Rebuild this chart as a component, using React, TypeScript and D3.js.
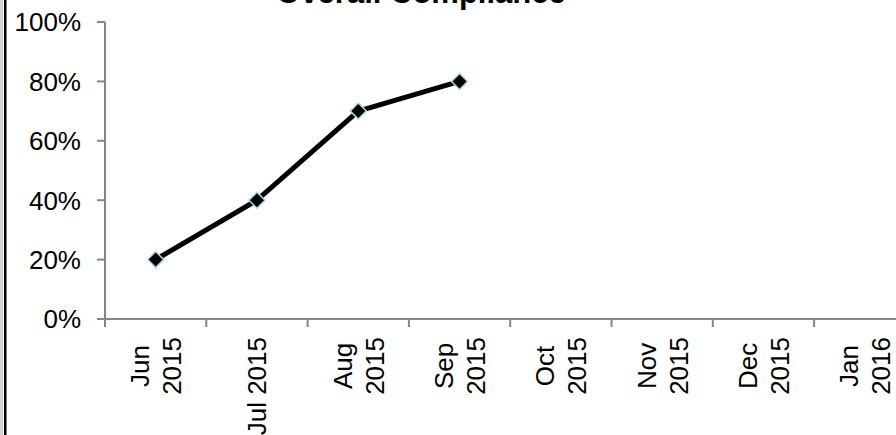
import React, { useEffect, useRef } from "react";
import * as d3 from "d3";

// Month categories, one per band on the x axis
const categories = [
  "Jun 2015",
  "Jul 2015",
  "Aug 2015",
  "Sep 2015",
  "Oct 2015",
  "Nov 2015",
  "Dec 2015",
  "Jan 2016",
];

// How each category label wraps onto lines
const tickLabelLines: string[][] = [
  ["Jun", "2015"],
  ["Jul 2015"],
  ["Aug", "2015"],
  ["Sep", "2015"],
  ["Oct", "2015"],
  ["Nov", "2015"],
  ["Dec", "2015"],
  ["Jan", "2016"],
];

// Compliance share per month (null = no data yet)
const compliance: (number | null)[] = [0.2, 0.4, 0.7, 0.8, null, null, null, null];

const yTicks = [0, 0.2, 0.4, 0.6, 0.8, 1.0];

const title = "Overall Compliance";

const W = 896;
const H = 435;
const FONT = "'Liberation Sans', Arial, Helvetica, sans-serif";

export default function App() {
  const ref = useRef<SVGSVGElement>(null);

  useEffect(() => {
    const svg = d3.select(ref.current!);
    svg.selectAll("*").remove();

    const plotLeft = 105;
    const step = 101.3;
    const x = d3
      .scaleBand<string>()
      .domain(categories)
      .range([plotLeft, plotLeft + step * categories.length])
      .paddingInner(0)
      .paddingOuter(0);
    const y = d3.scaleLinear().domain([0, 1]).range([319, 22]);

    // frame edge on the left
    svg.append("rect").attr("x", 0).attr("y", 0).attr("width", 3).attr("height", H).attr("fill", "#d4d4d4");
    svg.append("rect").attr("x", 4).attr("y", 0).attr("width", 2.5).attr("height", H).attr("fill", "#000");

    // title
    svg
      .append("text")
      .attr("x", 421)
      .attr("y", 3)
      .attr("text-anchor", "middle")
      .attr("font-family", FONT)
      .attr("font-weight", "bold")
      .attr("font-size", 31)
      .attr("fill", "#000")
      .text(title);

    const axisColor = "#868686";

    // y axis
    svg
      .append("line")
      .attr("x1", plotLeft)
      .attr("x2", plotLeft)
      .attr("y1", y(1))
      .attr("y2", y(0))
      .attr("stroke", axisColor)
      .attr("stroke-width", 2);
    const yg = svg.append("g");
    yTicks.forEach((t) => {
      yg.append("line")
        .attr("x1", plotLeft - 8)
        .attr("x2", plotLeft)
        .attr("y1", y(t))
        .attr("y2", y(t))
        .attr("stroke", axisColor)
        .attr("stroke-width", 2);
      yg.append("text")
        .attr("x", 81)
        .attr("y", y(t))
        .attr("dy", "0.36em")
        .attr("text-anchor", "end")
        .attr("font-family", FONT)
        .attr("font-size", 26)
        .attr("fill", "#000")
        .text(d3.format(".0%")(t));
    });

    // x axis
    const xEnd = plotLeft + step * categories.length;
    svg
      .append("line")
      .attr("x1", plotLeft - 8)
      .attr("x2", xEnd)
      .attr("y1", y(0))
      .attr("y2", y(0))
      .attr("stroke", axisColor)
      .attr("stroke-width", 2);
    const boundaries = categories.map((c) => x(c)!).concat([xEnd]);
    boundaries.forEach((bx) => {
      svg
        .append("line")
        .attr("x1", bx)
        .attr("x2", bx)
        .attr("y1", y(0))
        .attr("y2", y(0) + 8)
        .attr("stroke", axisColor)
        .attr("stroke-width", 2);
    });

    // rotated category labels, block anchored just below the axis
    const lineH = 32;
    categories.forEach((c, i) => {
      const cx = x(c)! + x.bandwidth() / 2;
      const g = svg.append("g").attr("transform", `translate(${cx},337) rotate(-90)`);
      const lines = tickLabelLines[i];
      const texts = lines.map((ln, j) =>
        g
          .append("text")
          .attr("y", (j - (lines.length - 1) / 2) * lineH)
          .attr("dy", "0.36em")
          .attr("text-anchor", "middle")
          .attr("font-family", FONT)
          .attr("font-size", 26)
          .attr("fill", "#000")
          .text(ln)
      );
      const blockLen = d3.max(texts, (t) => (t.node() as SVGTextElement).getComputedTextLength()) || 0;
      texts.forEach((t) => t.attr("x", -blockLen / 2));
    });

    // series line
    const pts = categories
      .map((c, i) => ({ c, v: compliance[i] }))
      .filter((d) => d.v !== null) as { c: string; v: number }[];
    const line = d3
      .line<{ c: string; v: number }>()
      .x((d) => x(d.c)! + x.bandwidth() / 2)
      .y((d) => y(d.v));
    svg
      .append("path")
      .attr("d", line(pts))
      .attr("fill", "none")
      .attr("stroke", "#000")
      .attr("stroke-width", 5)
      .attr("stroke-linejoin", "round");

    // diamond markers
    const sym = d3.symbol().type(d3.symbolSquare).size(130);
    svg
      .append("g")
      .selectAll("path")
      .data(pts)
      .join("path")
      .attr("d", sym()!)
      .attr("transform", (d) => `translate(${x(d.c)! + x.bandwidth() / 2},${y(d.v)}) rotate(45)`)
      .attr("fill", "#000")
      .attr("stroke", "#a9dce4")
      .attr("stroke-width", 1.5);
  }, []);

  return (
    <svg
      ref={ref}
      width={W}
      height={H}
      style={{ position: "absolute", left: 0, top: 0, background: "#fff" }}
    />
  );
}
